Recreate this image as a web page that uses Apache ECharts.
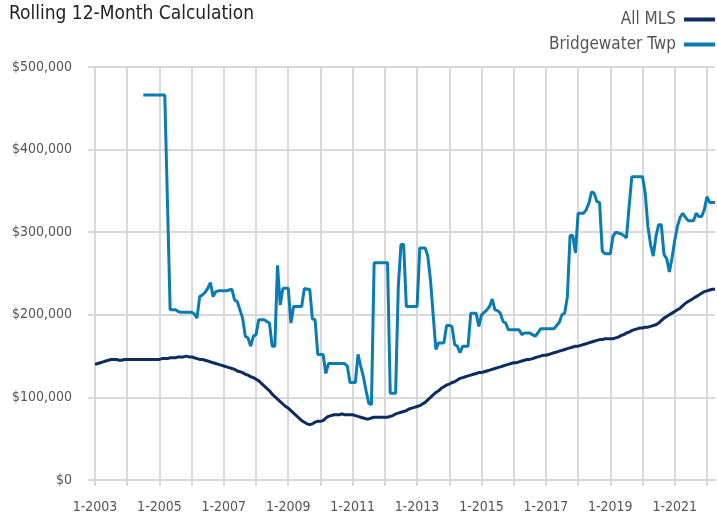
<!DOCTYPE html>
<html>
<head>
<meta charset="utf-8">
<style>
html,body{margin:0;padding:0;background:#fff;}
#chart{width:717px;height:515px;}
</style>
<script src="https://cdn.jsdelivr.net/npm/echarts@6/dist/echarts.min.js"></script>
</head>
<body>
<div id="chart"></div>
<script>
// Month labels from 1-2003 through 4-2022
var startYear = 2003;
var monthCount = 232;
var categories = [];
for (var i = 0; i < monthCount; i++) {
  categories.push((i % 12 + 1) + '-' + (startYear + Math.floor(i / 12)));
}

var seriesNames = ['All MLS', 'Bridgewater Twp'];

// All MLS, thousands of dollars, monthly
var allMLS = [
  140,141,142,143,144,145,146,146,146,145,145,146,
  146,146,146,146,146,146,146,146,146,146,146,146,
  146,147,147,147,148,148,148,149,149,149,150,149,
  149,148,147,146,146,145,144,143,142,141,140,139,
  138,137,136,135,134,132,131,130,128,127,125,124,
  122,120,117,114,111,108,104,101,98,95,92,89,
  87,84,81,78,75,72,70,68,67,68,70,71,
  71,72,75,77,78,79,79,79,80,79,79,79,
  79,78,77,76,75,74,74,75,76,76,76,76,
  76,76,77,78,80,81,82,83,84,86,87,88,
  89,90,92,94,97,100,103,106,108,111,113,115,
  116,118,119,121,123,124,125,126,127,128,129,130,
  130,131,132,133,134,135,136,137,138,139,140,141,
  142,142,143,144,145,146,146,147,148,149,150,151,
  151,152,153,154,155,156,157,158,159,160,161,162,
  162,163,164,165,166,167,168,169,170,170,171,171,
  171,171,172,173,175,176,178,179,181,182,183,184,
  184,185,185,186,187,188,190,193,196,198,200,202,
  204,206,208,211,214,216,218,220,222,224,226,228,
  229,230,231,231
];

// Bridgewater Twp, thousands of dollars, monthly (no data before 7-2004)
var bridgewater = [
  null,null,null,null,null,null,null,null,null,null,null,null,
  null,null,null,null,null,null,466,466,466,466,466,466,
  466,466,466,336,206,206,206,204,203,203,203,203,
  203,201,196,222,224,227,232,239,222,228,229,229,
  229,229,230,231,218,216,206,196,174,172,162,174,
  176,194,194,194,192,190,162,162,260,212,232,232,
  232,190,210,210,210,210,232,231,231,195,194,152,
  152,152,129,141,141,141,141,141,141,141,138,118,
  118,118,152,138,125,108,93,91,263,263,263,263,
  263,263,105,105,105,234,285,285,210,210,210,210,
  210,281,281,281,271,242,200,158,166,166,166,187,
  187,186,164,162,154,162,162,162,202,202,202,186,
  200,203,206,210,219,206,205,202,192,190,182,182,
  182,182,182,176,178,178,178,176,174,178,183,183,
  183,183,183,183,187,191,200,202,222,296,296,275,
  323,323,323,327,335,349,347,337,336,277,274,274,
  274,295,300,299,298,296,293,331,367,367,367,367,
  367,347,307,285,271,295,309,309,273,268,252,269,
  290,307,318,323,318,314,314,314,323,319,319,327,
  343,336,336,336
];

var yTicks = [0, 100000, 200000, 300000, 400000, 500000];

function toDollars(arr) {
  return arr.map(function (v) { return v === null ? null : v * 1000; });
}

var FONT = "'DejaVu Sans Condensed', 'Liberation Sans Narrow', sans-serif";

var chart = echarts.init(document.getElementById('chart'));
chart.setOption({
  animation: false,
  backgroundColor: '#ffffff',
  title: {
    text: 'Rolling 12-Month Calculation',
    left: 4,
    top: 0,
    textStyle: { fontFamily: FONT, fontSize: 19, fontWeight: 'normal', color: '#222' }
  },
  legend: {
    orient: 'vertical',
    right: -3,
    top: 6,
    align: 'right',
    itemGap: 8,
    itemWidth: 31,
    itemHeight: 4,
    icon: 'rect',
    textStyle: { fontFamily: FONT, fontSize: 17, color: '#555', padding: [0, 3, 0, 0] },
    data: seriesNames
  },
  grid: { left: 95, right: 2, top: 67, bottom: 35, containLabel: false },
  xAxis: {
    type: 'category',
    data: categories,
    boundaryGap: false,
    axisLine: { show: true, lineStyle: { color: '#d9d9d9', width: 2 } },
    axisTick: {
      show: true,
      interval: function (i) { return i % 12 === 0; },
      length: 6,
      lineStyle: { color: '#d9d9d9', width: 2 }
    },
    axisLabel: {
      interval: function (i) { return i % 24 === 0; },
      fontFamily: FONT,
      fontSize: 14,
      color: '#555',
      margin: 20
    },
    splitLine: {
      show: true,
      interval: function (i) { return i % 12 === 0; },
      lineStyle: { color: '#d9d9d9', width: 2 }
    }
  },
  yAxis: {
    type: 'value',
    min: yTicks[0],
    max: yTicks[yTicks.length - 1],
    interval: 100000,
    axisLine: { show: false },
    axisTick: { show: true, length: 7, lineStyle: { color: '#d9d9d9', width: 2 } },
    axisLabel: {
      fontFamily: FONT,
      fontSize: 14,
      color: '#555',
      margin: 23,
      formatter: function (v) { return '$' + v.toLocaleString('en-US'); }
    },
    splitLine: { show: true, lineStyle: { color: '#d9d9d9', width: 2 } }
  },
  series: [
    {
      name: seriesNames[0],
      type: 'line',
      data: toDollars(allMLS),
      symbol: 'none',
      lineStyle: { color: '#0c2d5e', width: 3 },
      itemStyle: { color: '#0c2d5e' },
      z: 3
    },
    {
      name: seriesNames[1],
      type: 'line',
      data: toDollars(bridgewater),
      symbol: 'none',
      connectNulls: false,
      lineStyle: { color: '#0a7cb1', width: 3 },
      itemStyle: { color: '#0a7cb1' },
      z: 2
    }
  ]
});
</script>
</body>
</html>
